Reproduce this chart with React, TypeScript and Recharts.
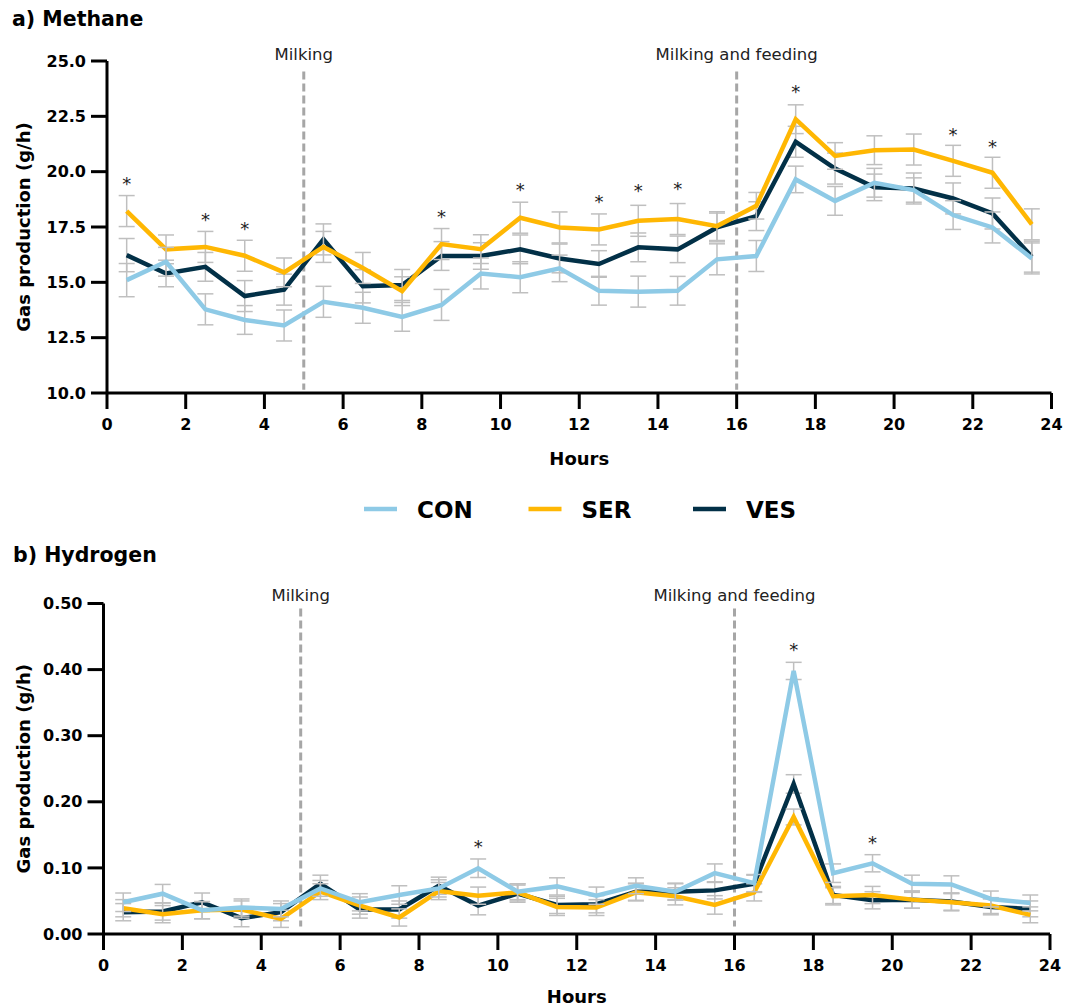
import {
  ComposedChart,
  Line,
  Scatter,
  XAxis,
  YAxis,
  ErrorBar,
  ReferenceLine,
} from "recharts";

const hours = [0.5, 1.5, 2.5, 3.5, 4.5, 5.5, 6.5, 7.5, 8.5, 9.5, 10.5, 11.5, 12.5, 13.5, 14.5, 15.5, 16.5, 17.5, 18.5, 19.5, 20.5, 21.5, 22.5, 23.5];
const hourTicks = [0, 2, 4, 6, 8, 10, 12, 14, 16, 18, 20, 22, 24];

// a) methane, g/h
const ch4Con = [15.1, 15.93, 13.78, 13.3, 13.05, 14.12, 13.85, 13.44, 13.98, 15.4, 15.23, 15.63, 14.62, 14.58, 14.62, 16.04, 16.19, 19.65, 18.68, 19.5, 19.17, 18.04, 17.48, 16.08];
const ch4Ser = [18.22, 16.49, 16.6, 16.2, 15.45, 16.6, 15.65, 14.6, 16.73, 16.5, 17.92, 17.48, 17.39, 17.78, 17.86, 17.54, 18.46, 22.37, 20.71, 20.97, 21.0, 20.49, 19.95, 17.62];
const ch4Ves = [16.23, 15.4, 15.7, 14.38, 14.67, 16.94, 14.82, 14.88, 16.19, 16.19, 16.49, 16.08, 15.83, 16.58, 16.49, 17.48, 17.99, 21.35, 20.14, 19.29, 19.24, 18.79, 18.11, 16.16];
const ch4ConErr = [0.75, 0.65, 0.7, 0.65, 0.7, 0.7, 0.7, 0.65, 0.7, 0.7, 0.7, 0.6, 0.65, 0.7, 0.65, 0.7, 0.7, 0.6, 0.65, 0.65, 0.55, 0.65, 0.7, 0.7];
const ch4SerErr = [0.7, 0.65, 0.7, 0.7, 0.65, 0.7, 0.7, 0.65, 0.7, 0.65, 0.7, 0.7, 0.7, 0.7, 0.7, 0.65, 0.6, 0.65, 0.6, 0.65, 0.7, 0.7, 0.7, 0.7];
const ch4VesErr = [0.75, 0.6, 0.65, 0.7, 0.7, 0.7, 0.75, 0.7, 0.65, 0.6, 0.65, 0.65, 0.6, 0.65, 0.6, 0.65, 0.65, 0.7, 0.7, 0.6, 0.7, 0.7, 0.7, 0.7];
const ch4StarHours = [0.5, 2.5, 3.5, 8.5, 10.5, 12.5, 13.5, 14.5, 17.5, 21.5, 22.5];
const ch4StarY = [19.62, 17.99, 17.59, 18.11, 19.35, 18.79, 19.29, 19.39, 23.8, 21.84, 21.3];
const ch4Ticks = [10, 12.5, 15, 17.5, 20, 22.5, 25];

// b) hydrogen, g/h
const h2Con = [0.048, 0.061, 0.036, 0.04, 0.038, 0.069, 0.048, 0.059, 0.069, 0.0995, 0.064, 0.072, 0.058, 0.073, 0.064, 0.092, 0.077, 0.398, 0.092, 0.107, 0.076, 0.075, 0.053, 0.047];
const h2Ser = [0.039, 0.03, 0.036, 0.037, 0.023, 0.064, 0.043, 0.025, 0.065, 0.058, 0.063, 0.041, 0.04, 0.063, 0.057, 0.044, 0.063, 0.177, 0.057, 0.059, 0.052, 0.048, 0.043, 0.029];
const h2Ves = [0.033, 0.034, 0.048, 0.024, 0.033, 0.076, 0.037, 0.037, 0.073, 0.043, 0.061, 0.044, 0.045, 0.064, 0.064, 0.066, 0.076, 0.227, 0.059, 0.051, 0.052, 0.049, 0.041, 0.038];
const h2ConErr = [0.014, 0.014, 0.013, 0.013, 0.012, 0.012, 0.013, 0.014, 0.013, 0.014, 0.012, 0.013, 0.013, 0.012, 0.012, 0.014, 0.013, 0.013, 0.014, 0.013, 0.013, 0.013, 0.012, 0.012];
const h2SerErr = [0.013, 0.013, 0.013, 0.013, 0.013, 0.012, 0.013, 0.013, 0.013, 0.013, 0.013, 0.013, 0.012, 0.013, 0.013, 0.014, 0.013, 0.012, 0.013, 0.013, 0.013, 0.013, 0.012, 0.012];
const h2VesErr = [0.013, 0.013, 0.014, 0.013, 0.013, 0.013, 0.013, 0.013, 0.013, 0.014, 0.013, 0.013, 0.013, 0.013, 0.013, 0.013, 0.013, 0.014, 0.013, 0.013, 0.013, 0.013, 0.012, 0.012];
const h2StarHours = [9.5, 17.5, 19.5];
const h2StarY = [0.137, 0.436, 0.143];
const h2Ticks = [0, 0.1, 0.2, 0.3, 0.4, 0.5];

const series = [
  { key: "ves", name: "VES", color: "#023047" },
  { key: "ser", name: "SER", color: "#FFB703" },
  { key: "con", name: "CON", color: "#8ECAE6" },
];
const legendOrder = ["con", "ser", "ves"];

const FONT = "'DejaVu Sans', Verdana, sans-serif";
const DASH = "#a6a6a6";
const ERR = "#bfbfbf";

type Row = { hour: number; [k: string]: number };

function buildRows(con: number[], ser: number[], ves: number[], conE: number[], serE: number[], vesE: number[]): Row[] {
  return hours.map((hour, i) => ({
    hour,
    con: con[i],
    ser: ser[i],
    ves: ves[i],
    conErr: conE[i],
    serErr: serE[i],
    vesErr: vesE[i],
  }));
}

const ch4Rows = buildRows(ch4Con, ch4Ser, ch4Ves, ch4ConErr, ch4SerErr, ch4VesErr);
const h2Rows = buildRows(h2Con, h2Ser, h2Ves, h2ConErr, h2SerErr, h2VesErr);
const ch4Stars = ch4StarHours.map((hour, i) => ({ hour, star: ch4StarY[i] }));
const h2Stars = h2StarHours.map((hour, i) => ({ hour, star: h2StarY[i] }));

const Star = (props: any) => {
  const { cx, cy } = props;
  if (cx == null || cy == null) return <g />;
  return (
    <text x={cx} y={cy + 10} textAnchor="middle" fontSize={18} fill="#222" fontFamily={FONT}>
      *
    </text>
  );
};

type PanelProps = {
  rows: Row[];
  stars: { hour: number; star: number }[];
  domain: [number, number];
  ticks: number[];
  fmt: (v: number) => string;
  marks: { x: number; y1: number; y2: number; label: string; offset: number }[];
  top: number;
  height: number;
  marginTop: number;
  marginRight: number;
  yWidth: number;
  hoursOffset: number;
};

function Panel({ rows, stars, domain, ticks, fmt, marks, top, height, marginTop, marginRight, yWidth, hoursOffset }: PanelProps) {
  const axisStroke = { stroke: "#000", strokeWidth: 3 };
  const tickStyle = { fill: "#000", fontSize: 16, fontWeight: "bold", fontFamily: FONT };
  return (
    <div style={{ position: "absolute", left: 0, top }}>
      <ComposedChart width={1065} height={height} data={rows} margin={{ top: marginTop, right: marginRight, bottom: 12, left: 0 }}>
        <XAxis
          type="number"
          dataKey="hour"
          domain={[0, 24]}
          ticks={hourTicks}
          interval={0}
          height={70}
          tickSize={16}
          tickMargin={10}
          axisLine={axisStroke}
          tickLine={axisStroke}
          tick={tickStyle}
          label={{ value: "Hours", position: "insideBottom", offset: hoursOffset, fill: "#000", fontSize: 18, fontWeight: "bold", fontFamily: FONT }}
        />
        <YAxis
          type="number"
          domain={domain}
          ticks={ticks}
          interval={0}
          width={yWidth}
          tickSize={16}
          tickMargin={5}
          axisLine={axisStroke}
          tickLine={axisStroke}
          tick={tickStyle}
          tickFormatter={fmt}
          label={{ value: "Gas production (g/h)", angle: -90, position: "insideLeft", offset: 24, fill: "#000", fontSize: 18, fontWeight: "bold", fontFamily: FONT, style: { textAnchor: "middle" } }}
        />
        {marks.map((m) => (
          <ReferenceLine
            key={m.label}
            segment={[{ x: m.x, y: m.y2 }, { x: m.x, y: m.y1 }]}
            stroke={DASH}
            strokeWidth={3}
            strokeDasharray="8 4"
            label={{ value: m.label, position: "top", offset: m.offset, fill: "#222", fontSize: 16.5, fontFamily: FONT }}
          />
        ))}
        {series.map((s) => (
          <Line
            key={s.key}
            type="linear"
            dataKey={s.key}
            stroke={s.color}
            strokeWidth={4.5}
            dot={false}
            activeDot={false}
            isAnimationActive={false}
          >
            <ErrorBar dataKey={`${s.key}Err`} width={8} stroke={ERR} strokeWidth={1.5} direction="y" />
          </Line>
        ))}
        <Scatter data={stars} dataKey="star" shape={Star} isAnimationActive={false} />
      </ComposedChart>
    </div>
  );
}

export default function App() {
  return (
    <div style={{ position: "absolute", left: 0, top: 0, width: 1065, height: 1008, overflow: "hidden", background: "#fff", fontFamily: FONT }}>
      <Panel
        rows={ch4Rows}
        stars={ch4Stars}
        domain={[10, 25]}
        ticks={ch4Ticks}
        fmt={(v) => v.toFixed(1)}
        marks={[
          { x: 5, y1: 10.15, y2: 24.52, label: "Milking", offset: 12 },
          { x: 16, y1: 10.15, y2: 24.52, label: "Milking and feeding", offset: 12 },
        ]}
        top={0}
        height={475}
        marginTop={61}
        marginRight={13.5}
        yWidth={107}
        hoursOffset={-2}
      />
      <Panel
        rows={h2Rows}
        stars={h2Stars}
        domain={[0, 0.5]}
        ticks={h2Ticks}
        fmt={(v) => v.toFixed(2)}
        marks={[
          { x: 5, y1: 0.0115, y2: 0.4925, label: "Milking", offset: 7 },
          { x: 16, y1: 0.0115, y2: 0.4925, label: "Milking and feeding", offset: 7 },
        ]}
        top={540}
        height={476}
        marginTop={63.5}
        marginRight={15}
        yWidth={103.5}
        hoursOffset={1}
      />
      <svg width={1065} height={1008} style={{ position: "absolute", left: 0, top: 0, pointerEvents: "none" }}>
        <text x={12} y={26} fontSize={20.5} fontWeight="bold" fill="#000" fontFamily={FONT}>a) Methane</text>
        <text x={13} y={562} fontSize={20.5} fontWeight="bold" fill="#000" fontFamily={FONT}>b) Hydrogen</text>
        {legendOrder.map((k, i) => {
          const s = series.find((d) => d.key === k)!;
          const x = 364 + i * 164.5;
          return (
            <g key={k}>
              <line x1={x} x2={x + 33} y1={509} y2={509} stroke={s.color} strokeWidth={4.5} />
              <text x={x + 53} y={518} fontSize={23} fontWeight="bold" fill="#000" fontFamily={FONT}>{s.name}</text>
            </g>
          );
        })}
      </svg>
    </div>
  );
}
